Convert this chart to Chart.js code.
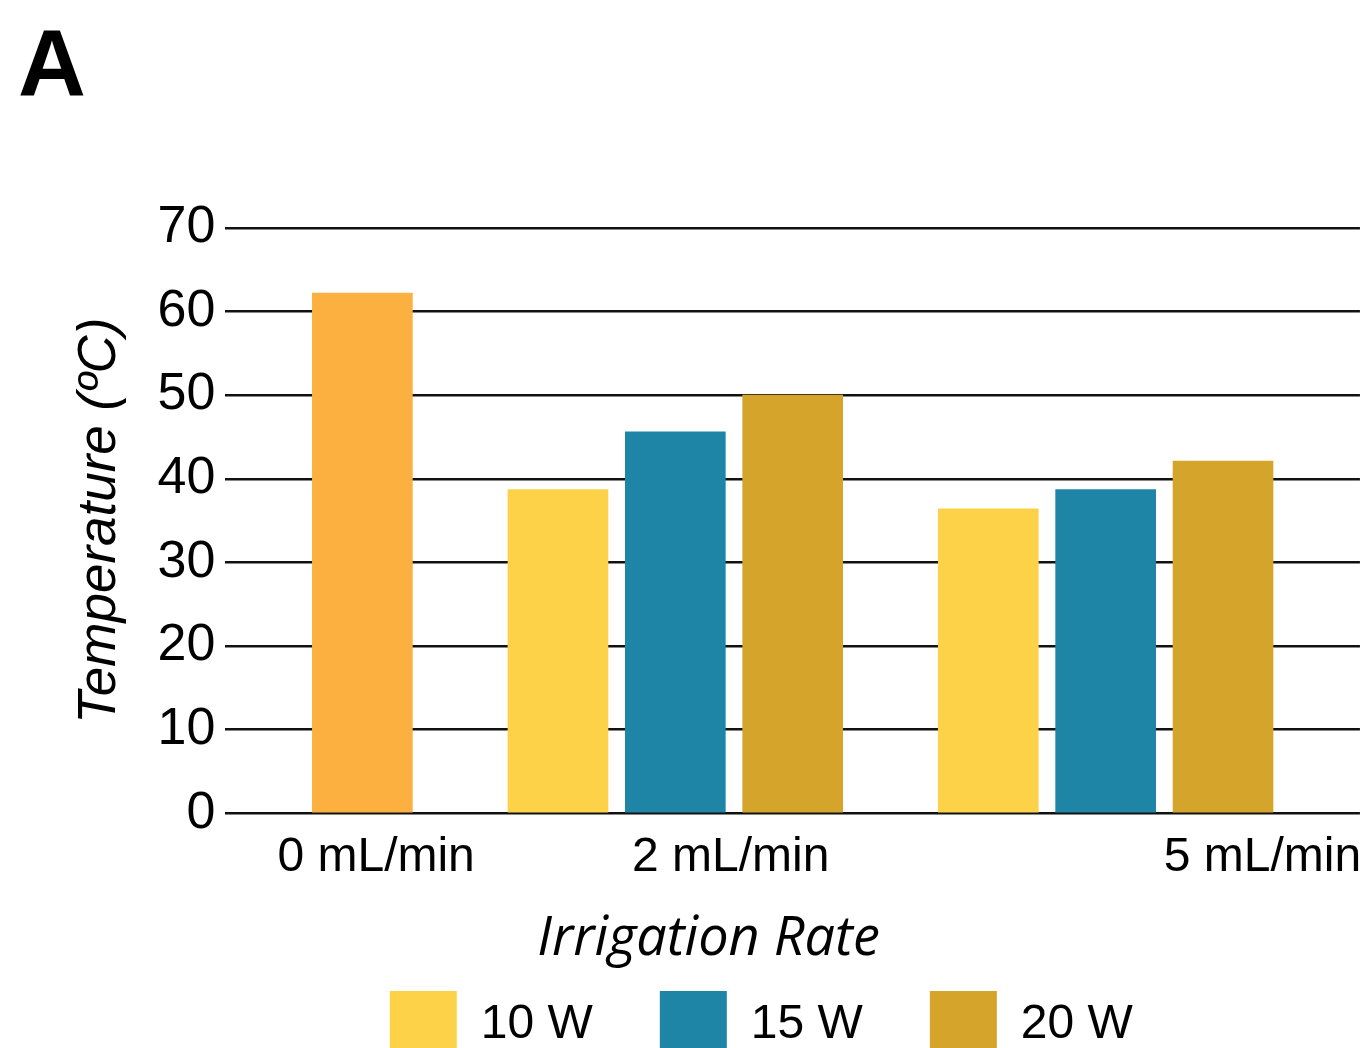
<!DOCTYPE html>
<html lang="en">

<head>
    <meta charset="UTF-8">
    <meta name="viewport" content="width=device-width, initial-scale=1.0">
    <title>Temperature vs irrigation rate</title>
    <script src="https://cdn.jsdelivr.net/npm/chart.js@4.4.1/dist/chart.umd.min.js"></script>
    <style>
        html, body {
            margin: 0;
            padding: 0;
            background: #fff;
            overflow: hidden;
        }
        .chart-container {
            width: 1370px;
            height: 1068px;
        }
    </style>
</head>

<body>
    <div class="chart-container">
        <canvas id="myChart" width="1370" height="1068"></canvas>
    </div>
    <script>
        // irrigation rates (mL/min), shown as the x tick labels
        var rates = [0, 2, 5];
        var seriesNames = ['10 W', '15 W', '20 W'];
        // temperature (ºC) for each rate
        var noIrrigation = [62.2, null, null];
        var power10 = [null, 38.7, 36.4];
        var power15 = [null, 45.6, 38.7];
        var power20 = [null, 50.0, 42.1];
        var yMin = 0, yMax = 70, yStep = 10;

        var colors = ['#FBB040', '#FDD249', '#1E85A6', '#D5A52B'];

        // bars sit in slots of a hidden category axis
        var slotCount = 29;
        var groupStart = [3, 8, 19];
        var slotStep = 3;
        var slotLabels = [];
        for (let i = 0; i < slotCount; i++) slotLabels.push('s' + i);

        function toSlots(values, index) {
            var out = new Array(slotCount).fill(null);
            values.forEach(function (v, g) {
                if (v !== null) out[groupStart[g] + slotStep * index] = v;
            });
            return out;
        }

        var tickFont = { family: "'Liberation Sans', Arial, sans-serif", size: 52 };
        var labelFont = { family: "'Liberation Sans', Arial, sans-serif", size: 48 };

        var datasets = [{
            label: '0 mL/min',
            data: toSlots(noIrrigation, 0),
            backgroundColor: colors[0]
        }];
        [power10, power15, power20].forEach(function (s, i) {
            datasets.push({
                label: seriesNames[i],
                data: toSlots(s, i),
                backgroundColor: colors[i + 1]
            });
        });
        datasets.forEach(function (d) {
            d.xAxisID = 'slots';
            d.barThickness = 100;
            d.grouped = false;
            d.borderWidth = 0;
        });

        Chart.defaults.color = '#000';

        var ctx = document.getElementById('myChart').getContext('2d');
        var myChart = new Chart(ctx, {
            type: 'bar',
            data: { datasets: datasets },
            options: {
                responsive: false,
                animation: false,
                layout: { padding: { left: 18, right: 10, top: 0, bottom: 0 } },
                plugins: {
                    tooltip: { enabled: false },
                    title: {
                        display: true,
                        text: 'A',
                        align: 'start',
                        color: '#000',
                        font: { family: "'Liberation Sans', Arial, sans-serif", size: 94, weight: 'bold' },
                        padding: { top: 14, bottom: 101 }
                    },
                    legend: {
                        position: 'bottom',
                        labels: {
                            boxWidth: 67,
                            boxHeight: 67,
                            padding: 27,
                            color: '#000',
                            font: labelFont,
                            generateLabels: function (chart) {
                                var items = Chart.defaults.plugins.legend.labels.generateLabels(chart);
                                items.forEach(function (item) {
                                    if (item.datasetIndex === 0) {
                                        // blank spacer so the visible entries sit where the original has them
                                        item.text = '     ';
                                        item.fillStyle = 'rgba(0,0,0,0)';
                                        item.strokeStyle = 'rgba(0,0,0,0)';
                                        item.lineWidth = 0;
                                    } else {
                                        item.text = item.text + '   ';
                                    }
                                });
                                return items;
                            }
                        }
                    }
                },
                scales: {
                    slots: {
                        axis: 'x',
                        type: 'category',
                        position: 'bottom',
                        labels: slotLabels,
                        offset: true,
                        display: false
                    },
                    x: {
                        type: 'linear',
                        position: 'bottom',
                        offset: false,
                        min: -0.85,
                        max: 5.55,
                        afterBuildTicks: function (scale) {
                            scale.ticks = rates.map(function (v) { return { value: v }; });
                        },
                        ticks: {
                            font: labelFont,
                            color: '#000',
                            padding: 8,
                            maxRotation: 0,
                            autoSkip: false,
                            callback: function (v) { return v + ' mL/min'; }
                        },
                        grid: { display: false },
                        border: { display: false },
                        title: {
                            display: true,
                            // trailing spaces pull the centred title left, as in the original
                            text: 'Irrigation Rate            ',
                            color: '#000',
                            font: { family: "'Open Sans', sans-serif", size: 54, style: 'italic', lineHeight: 1 },
                            padding: { top: 18, bottom: -3 }
                        }
                    },
                    y: {
                        min: yMin,
                        max: yMax,
                        ticks: {
                            stepSize: yStep,
                            font: tickFont,
                            color: '#000',
                            padding: 10
                        },
                        grid: { color: '#111', lineWidth: 2.5, drawTicks: false },
                        border: { display: false },
                        title: {
                            display: true,
                            text: 'Temperature (ºC)',
                            color: '#000',
                            font: { family: "'Liberation Sans', Arial, sans-serif", size: 53, style: 'italic' },
                            padding: { top: 50, bottom: 16 }
                        }
                    }
                }
            }
        });
    </script>
</body>

</html>
